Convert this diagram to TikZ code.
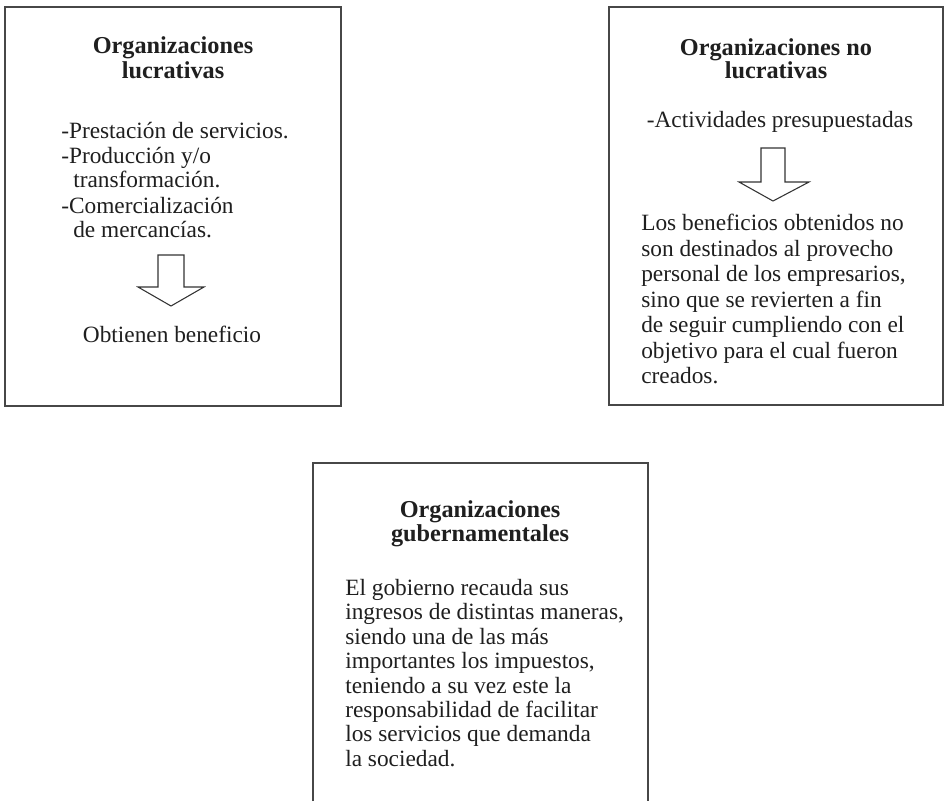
\documentclass[tikz,border=0pt]{standalone}
\usepackage{fontspec}
\setmainfont{Liberation Serif}
\begin{document}
\begin{tikzpicture}[x=0.75pt,y=-0.75pt,
  frame/.style={draw=black!72, line width=1.3pt},
  blockarrow/.style={draw=black!80, line width=0.8pt, line join=miter, fill=white},
  txt/.style={inner sep=0pt, anchor=base west, text=black!88,
    font=\fontsize{17.5}{21}\selectfont},
  ctr/.style={txt, anchor=base},
  ttl/.style={ctr, font=\fontsize{18.2}{21}\selectfont\bfseries}]
\useasboundingbox (0,0) rectangle (945,801);
\fill[white] (0,0) rectangle (945,801);

% ---- Organizaciones lucrativas ----
\draw[frame] (5,7) rectangle (341,406);
\node[ttl] (t1a) at (173,53) {Organizaciones};
\node[ttl] (t1b) at (173,78) {lucrativas};
\node[txt] (a1) at (61,138) {-Prestación de servicios.};
\node[txt] (a2) at (61,163) {-Producción y/o};
\node[txt] (a3) at (73,187) {transformación.};
\node[txt] (a4) at (61,213) {-Comercialización};
\node[txt] (a5) at (73,237) {de mercancías.};
\draw[blockarrow] (158,255) -- (184,255) -- (184,287) -- (204,287) -- (171,306)
  -- (138,287) -- (158,287) -- cycle;
\node[ctr] (r1) at (172,342) {Obtienen beneficio};

% ---- Organizaciones no lucrativas ----
\draw[frame] (609,7) rectangle (943,405);
\node[ttl] (t2a) at (776,55) {Organizaciones no};
\node[ttl] (t2b) at (776,78) {lucrativas};
\node[ctr] (b1) at (780,127) {-Actividades presupuestadas};
\draw[blockarrow] (761,148) -- (785,148) -- (785,182) -- (809,182) -- (773,201)
  -- (739,182) -- (761,182) -- cycle;
\node[txt] (c1) at (641,230) {Los beneficios obtenidos no};
\node[txt] (c2) at (641,256) {son destinados al provecho};
\node[txt] (c3) at (641,281) {personal de los empresarios,};
\node[txt] (c4) at (641,307) {sino que se revierten a fin};
\node[txt] (c5) at (641,332) {de seguir cumpliendo con el};
\node[txt] (c6) at (641,358) {objetivo para el cual fueron};
\node[txt] (c7) at (641,383) {creados.};

% ---- Organizaciones gubernamentales (open at the bottom) ----
\draw[frame] (313,801) -- (313,463) -- (648,463) -- (648,801);
\node[ttl] (t3a) at (480,517) {Organizaciones};
\node[ttl] (t3b) at (480,541) {gubernamentales};
\node[txt] (d1) at (345,595) {El gobierno recauda sus};
\node[txt] (d2) at (345,619) {ingresos de distintas maneras,};
\node[txt] (d3) at (345,644) {siendo una de las más};
\node[txt] (d4) at (345,668) {importantes los impuestos,};
\node[txt] (d5) at (345,693) {teniendo a su vez este la};
\node[txt] (d6) at (345,717) {responsabilidad de facilitar};
\node[txt] (d7) at (345,741) {los servicios que demanda};
\node[txt] (d8) at (345,766) {la sociedad.};
\end{tikzpicture}
\end{document}
